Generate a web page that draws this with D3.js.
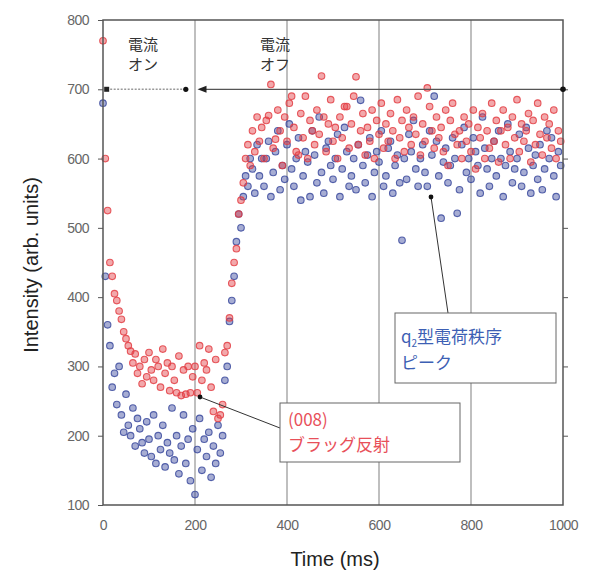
<!DOCTYPE html>
<html><head><meta charset="utf-8">
<script src="https://cdn.jsdelivr.net/npm/d3@7"></script>
<style>body{margin:0;background:#fff}svg{display:block}</style>
</head><body>
<svg id="c" width="595" height="574"></svg>
<script>
// ---- data ----
const xTicks = [0, 200, 400, 600, 800, 1000];
const yTicks = [100, 200, 300, 400, 500, 600, 700, 800];
const gridTimes = [200, 400, 600, 800];
const timeStep = 5; // ms between successive points
const redValues = [
  770,600,525,450,430,405,395,380,368,350,340,330,322,305,318,290,300,275,310,285,
  320,295,280,310,300,270,325,290,305,265,300,280,262,315,258,295,260,300,262,285,
  300,262,330,280,305,295,325,270,235,310,225,230,245,320,330,370,420,450,470,520,
  540,565,600,620,590,640,610,660,625,645,
  600,655,662,707,615,628,670,640,590,660,
  625,680,690,645,610,605,665,630,690,600,
  655,640,620,670,635,719,660,610,650,685,
  625,645,600,660,630,675,675,615,650,690,
  718,620,640,665,605,645,625,670,600,655,
  635,680,615,650,625,665,640,600,685,630,
  655,610,670,645,620,660,635,690,605,650,
  625,702,675,640,615,660,630,645,610,670,
  590,655,680,635,620,640,600,660,625,650,
  610,670,585,645,630,665,600,640,615,680,
  625,655,595,640,670,620,645,600,660,630,
  685,610,650,625,640,665,595,655,620,680,
  635,605,660,630,650,615,670,600,640,625
];
const blueValues = [
  680,430,360,330,270,290,245,300,230,205,260,215,200,240,185,225,210,190,175,220,
  195,170,230,160,200,180,215,155,190,175,240,165,200,145,185,230,160,195,135,210,
  115,180,225,150,195,170,205,140,185,160,215,175,200,280,300,365,395,430,480,520,
  500,545,575,560,600,585,550,620,575,600,
  560,600,625,545,580,610,640,555,590,570,
  620,650,585,560,600,630,540,575,610,595,
  545,640,605,565,660,580,550,615,625,590,
  570,600,635,545,585,645,610,560,575,600,
  555,620,684,590,565,605,630,545,580,610,
  595,640,560,575,615,625,550,590,605,565,
  482,600,570,635,610,655,585,560,600,620,
  580,560,640,605,690,625,575,514,595,615,
  565,590,630,600,521,555,620,645,580,600,
  570,630,610,590,550,660,615,585,560,600,
  625,575,640,600,545,590,650,610,565,585,
  600,635,560,580,645,615,550,590,605,570,
  620,555,585,640,600,630,575,545,610,590
];

// ---- layout ----
const svg = d3.select("#c");
const L = 103, R = 563, T = 20, B = 505;
const x = d3.scaleLinear().domain([0, 1000]).range([L, R]);
const y = d3.scaleLinear().domain([100, 800]).range([B, T]);
const redC = "#e33e44", blueC = "#3b4a9e";

// gridlines
svg.append("g").selectAll("line").data(gridTimes).join("line")
  .attr("x1", d => x(d)).attr("x2", d => x(d)).attr("y1", T).attr("y2", B)
  .attr("stroke", "#8a8a8a").attr("stroke-width", 1.1);

// points
function series(vals, col) {
  svg.append("g").selectAll("circle").data(vals).join("circle")
    .attr("cx", (d, i) => x(i * timeStep)).attr("cy", d => y(d)).attr("r", 3.3)
    .attr("fill", col).attr("fill-opacity", 0.45)
    .attr("stroke", col).attr("stroke-width", 1.1).attr("stroke-opacity", 0.85);
}
series(blueValues, blueC);
series(redValues, redC);

// frame
svg.append("rect").attr("x", L).attr("y", T).attr("width", R - L).attr("height", B - T)
  .attr("fill", "none").attr("stroke", "#555").attr("stroke-width", 1.5);

// axes
const tickFont = "'Liberation Sans', Arial, sans-serif";
const yAxis = svg.append("g").attr("transform", `translate(${L},0)`)
  .call(d3.axisLeft(y).tickValues(yTicks).tickSize(5).tickPadding(9));
yAxis.select(".domain").remove();
yAxis.selectAll("line").attr("stroke", "#555");
yAxis.selectAll("text").attr("font-family", tickFont).attr("font-size", 14)
  .attr("fill", "#666").attr("letter-spacing", "-0.5");
const yR = svg.append("g").attr("transform", `translate(${R},0)`)
  .call(d3.axisLeft(y).tickValues(yTicks.slice(1, -1)).tickSize(-5).tickFormat(""));
yR.select(".domain").remove();
yR.selectAll("line").attr("stroke", "#555");

const xAxis = svg.append("g").attr("transform", `translate(0,${B})`)
  .call(d3.axisBottom(x).tickValues(xTicks).tickSize(0).tickPadding(15).tickFormat(d3.format("d")));
xAxis.select(".domain").remove();
xAxis.selectAll("text").attr("font-family", tickFont).attr("font-size", 14)
  .attr("fill", "#666").attr("letter-spacing", "-0.5");

// axis titles
svg.append("text").attr("x", 335).attr("y", 566).attr("text-anchor", "middle")
  .attr("font-family", tickFont).attr("font-size", 20).attr("fill", "#222").text("Time (ms)");
svg.append("text").attr("transform", `translate(38,265) rotate(-90)`).attr("text-anchor", "middle")
  .attr("font-family", tickFont).attr("font-size", 20).attr("fill", "#222").text("Intensity (arb. units)");

// current on / off markers
const jp = "'Noto Sans CJK JP', sans-serif";
svg.append("line").attr("x1", x(8)).attr("x2", x(180)).attr("y1", y(700)).attr("y2", y(700))
  .attr("stroke", "#999").attr("stroke-width", 1.5).attr("stroke-dasharray", "2,1.5");
svg.append("rect").attr("x", x(8) - 2.5).attr("y", y(700) - 2.5).attr("width", 5).attr("height", 5).attr("fill", "#222");
svg.append("circle").attr("cx", x(180)).attr("cy", y(700)).attr("r", 2.6).attr("fill", "#111");
svg.append("line").attr("x1", x(212)).attr("x2", R).attr("y1", y(700)).attr("y2", y(700))
  .attr("stroke", "#555").attr("stroke-width", 1.3);
svg.append("path").attr("d", `M${x(212) - 3},${y(700)} l9,-3.5 l0,7 z`).attr("fill", "#222");
svg.append("circle").attr("cx", R).attr("cy", y(700)).attr("r", 2.8).attr("fill", "#111");

function label(lines, px, py, col, size, lh) {
  const t = svg.append("text").attr("font-family", jp).attr("font-size", size).attr("fill", col);
  lines.forEach((s, i) => t.append("tspan").attr("x", px).attr("y", py + i * lh).text(s));
  return t;
}
label(["電流", "オン"], 128, 50, "#333", 15, 20);
label(["電流", "オフ"], 260, 50, "#333", 15, 20);

// annotation: blue
svg.append("line").attr("x1", 431).attr("y1", 197).attr("x2", 448).attr("y2", 313)
  .attr("stroke", "#333").attr("stroke-width", 1);
svg.append("circle").attr("cx", 431).attr("cy", 197).attr("r", 2.4).attr("fill", "#111");
svg.append("rect").attr("x", 395).attr("y", 313).attr("width", 161).attr("height", 70)
  .attr("fill", "#fff").attr("stroke", "#666").attr("stroke-width", 1);
const bt = svg.append("text").attr("font-family", jp).attr("font-size", 17).attr("fill", "#3d5fb4");
const l1 = bt.append("tspan").attr("x", 401).attr("y", 343);
l1.append("tspan").text("q");
l1.append("tspan").attr("font-size", 10).attr("dy", 4).text("2");
l1.append("tspan").attr("dy", -4).text("型電荷秩序");
bt.append("tspan").attr("x", 401).attr("y", 369).text("ピーク");

// annotation: red
svg.append("line").attr("x1", 200).attr("y1", 397).attr("x2", 280).attr("y2", 428)
  .attr("stroke", "#333").attr("stroke-width", 1);
svg.append("circle").attr("cx", 200).attr("cy", 397).attr("r", 2.4).attr("fill", "#111");
svg.append("rect").attr("x", 280).attr("y", 403).attr("width", 180).attr("height", 59)
  .attr("fill", "#fff").attr("stroke", "#666").attr("stroke-width", 1);
label(["(008)", "ブラッグ反射"], 288, 426, "#e8505a", 17, 25);
</script>
</body></html>
